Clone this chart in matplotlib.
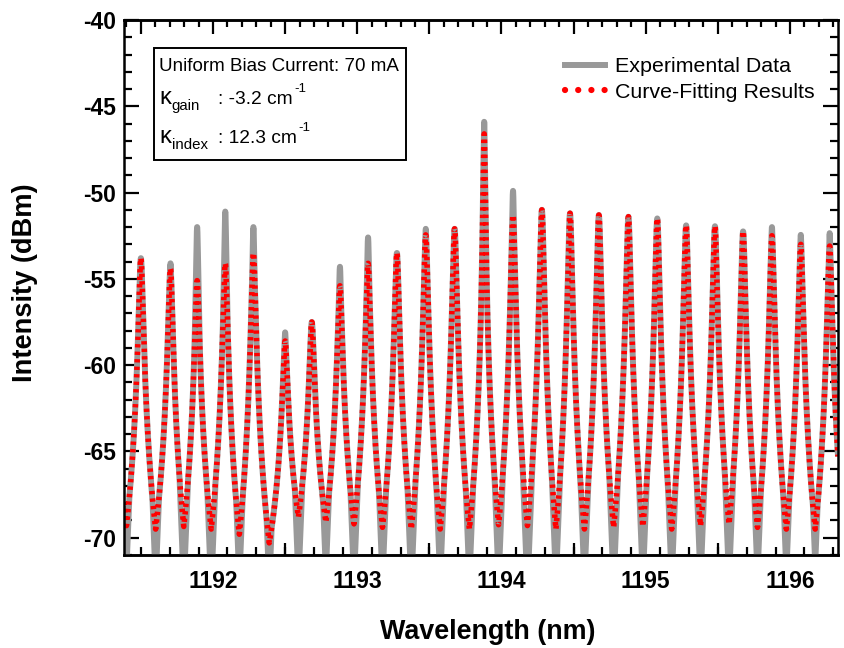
import numpy as np
import matplotlib.pyplot as plt
from matplotlib.lines import Line2D
from matplotlib.patches import Rectangle
from matplotlib.ticker import MultipleLocator

plt.rcParams['font.family'] = ['Liberation Sans', 'DejaVu Sans']

# mode peaks (nm), first and last sit just outside the frame
peak_nm = [1191.30, 1191.50, 1191.705, 1191.89, 1192.085, 1192.28, 1192.50, 1192.685,
           1192.88, 1193.075, 1193.275, 1193.475, 1193.675, 1193.88, 1194.08, 1194.28,
           1194.475, 1194.675, 1194.88, 1195.08, 1195.28, 1195.48, 1195.675, 1195.875,
           1196.075, 1196.275, 1196.475]
# peak levels (dBm)
peak_exp = [-54.0, -54.0, -54.1, -52.0, -51.1, -52.0, -58.1, -58.0, -54.3, -52.6,
            -53.8, -52.1, -52.3, -45.9, -49.9, -51.3, -51.5, -51.6, -51.7, -51.8,
            -52.1, -52.2, -52.4, -52.0, -52.45, -52.35, -53.0]
peak_fit = [-54.0, -53.8, -54.4, -55.1, -54.1, -53.5, -58.6, -57.5, -55.4, -54.1,
            -53.5, -52.45, -52.1, -46.6, -51.3, -51.0, -51.2, -51.3, -51.4, -51.5,
            -51.9, -51.95, -52.25, -52.5, -53.0, -53.1, -53.5]
# mode widths (nm): fitted modes and the sharper measured tips
peak_w = [0.013] * 13 + [0.007] + [0.013] * 13
tip_w = [0.007] * 13 + [0.005] + [0.007] * 13
# levels between neighbouring modes (dBm)
trough_exp = [-71.8, -72.5, -72.8, -73.0, -72.5, -72.8, -72.5, -72.0, -72.5, -72.5,
              -72.8, -72.5, -72.5, -72.5, -73.0, -72.5, -72.5, -72.8, -72.5, -72.5,
              -72.5, -72.5, -72.2, -72.0, -71.5, -72.5]
trough_fit = [-69.3, -69.5, -69.35, -69.5, -69.8, -70.3, -68.8, -69.1, -69.2, -69.4,
              -69.5, -69.5, -69.5, -69.25, -69.3, -69.5, -69.5, -69.4, -69.35, -69.5,
              -69.3, -69.2, -69.4, -69.5, -69.5, -69.5]

y_ticks = [-70, -65, -60, -55, -50, -45, -40]
y_labels = ['-70', '-65', '-60', '-55', '-50', '-45', '-40']
x_ticks = [1192, 1193, 1194, 1195, 1196]
x_labels = ['1192', '1193', '1194', '1195', '1196']


def spectrum(x, pos, top, bottom, width):
    # each mode falls off like a lorentzian (in dB) down to the level between modes
    pos = np.asarray(pos)
    top = np.asarray(top)
    bottom = np.asarray(bottom)
    width = np.asarray(width)
    mid = (pos[:-1] + pos[1:]) / 2
    k = np.clip(np.searchsorted(pos, x) - 1, 0, len(mid) - 1)
    j = np.where(x < mid[k], k, k + 1)
    d = np.abs(x - pos[j])
    D = np.abs(mid[k] - pos[j])
    w = width[j]
    g = 1 - np.log1p((d / w) ** 2) / np.log1p((D / w) ** 2)
    return bottom[k] + (top[j] - bottom[k]) * g


def floor_dip(x, pos, bottom, slope=213.0, reach=0.06):
    # measured trace drops into the OSA noise floor between modes
    pos = np.asarray(pos)
    mid = (pos[:-1] + pos[1:]) / 2
    k = np.clip(np.searchsorted(pos, x) - 1, 0, len(mid) - 1)
    dist = np.abs(x - mid[k])
    out = np.asarray(bottom)[k] + slope * dist
    out[dist > reach] = np.inf
    return out


x = np.union1d(np.linspace(1191.36, 1196.36, 30000), peak_nm)
y_fit = spectrum(x, peak_nm, peak_fit, trough_fit, peak_w)
y_tip = spectrum(x, peak_nm, peak_exp, trough_fit, tip_w)
y_exp = np.minimum(np.maximum(y_fit, y_tip), floor_dip(x, peak_nm, trough_exp))

fig = plt.figure(figsize=(8.44, 6.48), dpi=100)
ax = fig.add_axes([124 / 844, 1 - 555 / 648, 714 / 844, 535 / 648])

ax.plot(x, y_exp, color='#999999', lw=4.3, solid_capstyle='butt')
ln, = ax.plot(x, y_fit, color='red', lw=4.0)
ln.set_dashes([0.6, 0.75])
ln.set_dash_capstyle('butt')

ax.set_xlim(1191.383, 1196.333)
ax.set_ylim(-71, -40)

for s in ax.spines.values():
    s.set_linewidth(1.8)

ax.set_yticks(y_ticks, labels=y_labels, fontweight='bold', fontsize=16.5)
ax.yaxis.set_minor_locator(MultipleLocator(1))
ax.tick_params(axis='y', which='major', direction='in', length=11, width=1.6, pad=6, right=True)
ax.tick_params(axis='y', which='minor', direction='in', length=5.5, width=1.6, right=True)

ax.set_xticks(x_ticks, labels=x_labels, fontweight='bold', fontsize=16.5)
ax.set_xticks(np.arange(1191.5, 1196.4, 0.2), minor=True)
ax.tick_params(axis='x', which='major', length=0, pad=10.5, top=False)
ax.tick_params(axis='x', which='minor', direction='in', length=6, width=1.6, top=False)

bot = ax.secondary_xaxis('bottom')
bot.set_xticks([1192.5, 1193.5, 1194.5, 1195.5], labels=[])
bot.tick_params(direction='in', length=8.5, width=1.6)
bot.spines['bottom'].set_linewidth(1.8)

top_ax = ax.secondary_xaxis('top')
top_ax.xaxis.set_major_locator(MultipleLocator(0.5))
top_ax.xaxis.set_minor_locator(MultipleLocator(0.1))
top_ax.tick_params(which='major', direction='in', length=10, width=1.6, labeltop=False)
top_ax.tick_params(which='minor', direction='in', length=5, width=1.6)
top_ax.spines['top'].set_linewidth(1.8)

fig.text(488 / 844, 1 - 632 / 648, 'Wavelength (nm)', ha='center', va='center',
         fontsize=19.4, fontweight='bold')
fig.text(25 / 844, 1 - 283 / 648, 'Intensity (dBm)', ha='center', va='center',
         rotation=90, fontsize=19.6, fontweight='bold')

# legend
h_exp = Line2D([], [], color='#999999', lw=4.3)
h_fit = Line2D([], [], color='red', lw=4.5, dashes=(0.01, 2.1), dash_capstyle='round')
ax.legend([h_exp, h_fit], ['Experimental Data', 'Curve-Fitting Results'],
          loc='upper left', bbox_to_anchor=(0.618, 0.93), frameon=False,
          fontsize=15.4, handlelength=1.87, handletextpad=0.47, labelspacing=0.3,
          borderpad=0, borderaxespad=0)

renderer = fig.canvas.get_renderer()


def ftext(px, py, s, **kw):
    # place text by pixel position in the 844x648 frame
    return fig.text(px / 844, 1 - py / 648, s, va='baseline', **kw)


def right_px(t):
    return t.get_window_extent(renderer).x1


# parameter box
fig.patches.append(Rectangle((154 / 844, 1 - 160 / 648), 252 / 844, 112 / 648,
                             transform=fig.transFigure, fill=False, lw=1.4, ec='black'))
ftext(159, 71, 'Uniform Bias Current: 70 mA', fontsize=13.5)
for base, sub, rest in [(104, 'gain', ': -3.2 cm'), (143, 'index', ': 12.3 cm')]:
    k_txt = ftext(159, base, 'κ', fontsize=17)
    ftext(right_px(k_txt) + 1, base + 6, sub, fontsize=10.8)
    main = ftext(218, base, rest, fontsize=13.8)
    ftext(right_px(main) + 1.5, base - 12, '-1', fontsize=9.5)

fig.savefig('out.png', dpi=100)
